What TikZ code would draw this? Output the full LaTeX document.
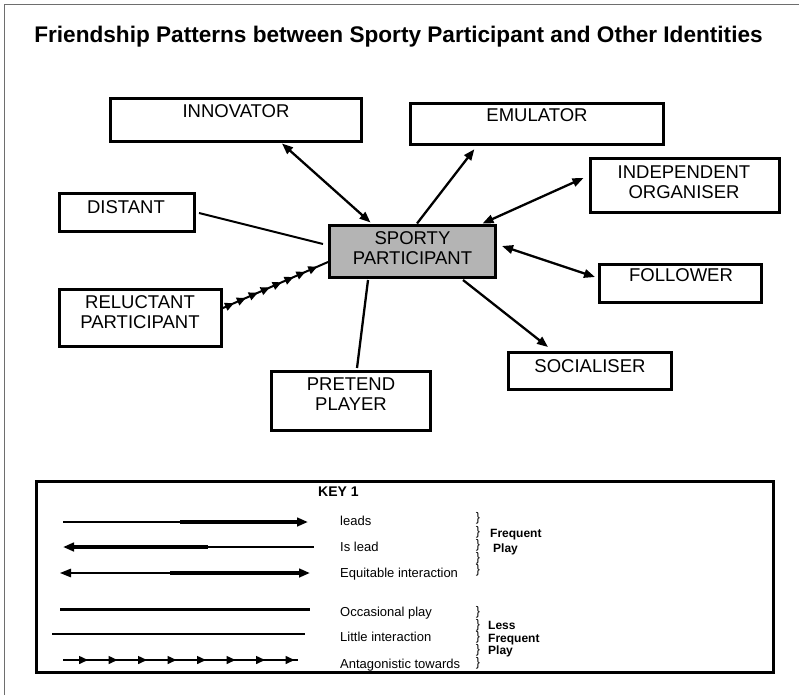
\documentclass[tikz,border=0pt]{standalone}
\usepackage{fontspec}
\setmainfont{Liberation Sans}
\usetikzlibrary{arrows.meta,calc,decorations.markings}
\begin{document}
\begin{tikzpicture}[x=1pt,y=-1pt,
  box/.style={draw=black, line width=2.6pt, inner sep=0pt, outer sep=0pt, fill=white},
  lbl/.style={font=\fontsize{18.5}{20.5}\selectfont, inner sep=0pt, align=center, text=black},
  keytxt/.style={font=\fontsize{13}{15}\selectfont, anchor=base west, inner sep=0pt, text=black},
  keybold/.style={font=\bfseries\fontsize{12}{14}\selectfont, anchor=base west, inner sep=0pt, text=black},
  brc/.style={font=\fontsize{12.5}{14}\selectfont, inner sep=0pt, text=black},
  conn/.style={line width=2.3pt},
  tipend/.style={-{Triangle[length=11pt,width=8.5pt]}},
  tipboth/.style={{Triangle[length=11pt,width=8.5pt]}-{Triangle[length=11pt,width=8.5pt]}},
  tipstart/.style={{Triangle[length=11pt,width=8.5pt]}-},
  thinpart/.style={line width=1.3pt},
  thickpart/.style={line width=3.2pt},
  antag/.style={line width=1.5pt, postaction={decorate},
    decoration={markings, mark=between positions #1 with {\arrow{Triangle[length=9pt,width=8pt]}}}}
]
\useasboundingbox (0,0) rectangle (799,695);
% outer frame (top and left edges visible)
\draw[line width=1.5pt, color={rgb,255:red,110;green,110;blue,110}] (4.5,695) -- (4.5,4.5) -- (799,4.5);

% title
\node[anchor=base, inner sep=0pt, font=\bfseries\fontsize{22.6}{26}\selectfont, text=black] (title) at (398.5,43)
  {Friendship Patterns between Sporty Participant and Other Identities};

% boxes
\node[box, minimum width=251pt, minimum height=43pt] (innov) at (236,120) {};
\node[box, minimum width=253pt, minimum height=41pt] (emul) at (537,124) {};
\node[box, minimum width=189pt, minimum height=54pt] (indep) at (685,185.5) {};
\node[box, minimum width=135pt, minimum height=38pt] (dist) at (127,212.5) {};
\node[box, minimum width=166pt, minimum height=52pt, fill={rgb,255:red,180;green,180;blue,180}] (sporty) at (412.5,251.5) {};
\node[box, minimum width=162pt, minimum height=57pt] (reluct) at (140.5,318) {};
\node[box, minimum width=159pt, minimum height=59pt] (pretend) at (351,401) {};
\node[box, minimum width=162pt, minimum height=38pt] (follow) at (680.5,283.5) {};
\node[box, minimum width=163pt, minimum height=37pt] (social) at (590,371) {};

% box labels
\node[lbl] (innovT) at (236,111) {INNOVATOR};
\node[lbl] (emulT) at (537,115) {EMULATOR};
\node[lbl] (indepT) at (684,182) {INDEPENDENT\\ORGANISER};
\node[lbl] (distT) at (126,207) {DISTANT};
\node[lbl] (sportyT) at (412.5,248) {SPORTY\\PARTICIPANT};
\node[lbl] (reluctT) at (140,312) {RELUCTANT\\PARTICIPANT};
\node[lbl] (pretendT) at (351,394) {PRETEND\\PLAYER};
\node[lbl] (followT) at (681,275) {FOLLOWER};
\node[lbl] (socialT) at (590,366) {SOCIALISER};

% connectors
\draw[conn, tipboth] ($(innov.south)+(46,2)$) -- ($(sporty.north)+(-42,-3)$);
\draw[conn, tipend, shorten >=6pt] ($(sporty.north)+(4.5,-2)$) -- ($(emul.south)+(-59,0)$);
\draw[conn, tipboth] ($(sporty.north)+(70,-2)$) -- ($(indep.west)+(-7,-7.5)$);
\draw[conn, tipboth] ($(sporty.east)+(6.5,-5.5)$) -- ($(follow.west)+(-4.5,-6.5)$);
\draw[conn, tipend] ($(sporty.south)+(50.5,2.5)$) -- ($(social.north)+(-42,-5.5)$);
\draw[line width=2.3pt] ($(sporty.south)+(-44.5,2.5)$) -- ($(pretend.north)+(6,-3.5)$);
\draw[line width=2pt] ($(dist.east)+(4.5,0.5)$) -- ($(sporty.west)+(-6.5,-7.5)$);
\draw[antag={12pt and 115pt step 13pt}, line width=2pt] ($(reluct.east)+(1.5,-10)$) -- ($(sporty.west)+(-1.5,10.5)$);

% key
\node[box, line width=3pt, fill=none, minimum width=737pt, minimum height=191pt] (key) at (405,577) {};
\node[anchor=base west, inner sep=0pt, font=\bfseries\fontsize{14}{16}\selectfont, text=black] (keyT) at (318,496) {KEY 1};

\coordinate (k1a) at (63,522); \coordinate (k1m) at (180,522); \coordinate (k1b) at (308,522);
\coordinate (k2a) at (63,547); \coordinate (k2m) at (208,547); \coordinate (k2b) at (314,547);
\coordinate (k3a) at (60,573); \coordinate (k3m) at (170,573); \coordinate (k3b) at (310,573);
\coordinate (k4a) at (60,609); \coordinate (k4b) at (310,609);
\coordinate (k5a) at (52,634); \coordinate (k5b) at (305,634);
\coordinate (k6a) at (63,660); \coordinate (k6b) at (298,660);

\draw[thinpart] (k1a) -- (k1m);
\draw[thickpart, tipend] (k1m) -- (k1b);
\draw[thickpart, tipstart] (k2a) -- (k2m);
\draw[thinpart] (k2m) -- (k2b);
\draw[thinpart, tipstart] (k3a) -- (k3m);
\draw[thickpart, tipend] (k3m) -- (k3b);
\draw[line width=3pt] (k4a) -- (k4b);
\draw[line width=2.6pt] (k5a) -- (k5b);
\draw[antag={25pt and 232pt step 29.5pt}] (k6a) -- (k6b);

\node[keytxt] (t1) at (340,525.5) {leads};
\node[keytxt] (t2) at (340,551.5) {Is lead};
\node[keytxt] (t3) at (340,577) {Equitable interaction};
\node[keytxt] (t4) at (340,616.5) {Occasional play};
\node[keytxt] (t5) at (340,641.5) {Little interaction};
\node[keytxt] (t6) at (340,668) {Antagonistic towards};

\foreach \yy [count=\i] in {518,532,545,558,570} {\node[brc] (b\i) at (478,\yy) {\}};}
\foreach \yy [count=\i] in {612,625,637,650,663} {\node[brc] (c\i) at (478,\yy) {\}};}

\node[keybold] (f1) at (490,537) {Frequent};
\node[keybold] (f2) at (493,552) {Play};
\node[keybold] (g1) at (488,629) {Less};
\node[keybold] (g2) at (488,642) {Frequent};
\node[keybold] (g3) at (488,654) {Play};
\end{tikzpicture}
\end{document}
